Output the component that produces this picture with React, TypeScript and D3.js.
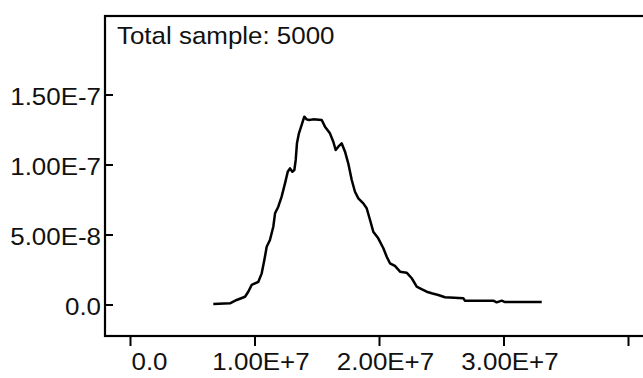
import React from "react";
import * as d3 from "d3";

// Density curve: x in units of 1e6, y in units of 1e-8
const xVals = [
  6.65, 7.99, 8.53, 9.2, 9.46, 9.73, 10.27, 10.54, 10.75, 10.94, 11.2, 11.47, 11.61, 11.87,
  12.14, 12.41, 12.63, 12.81, 13.0, 13.16, 13.27, 13.37, 13.53, 13.75, 13.96, 14.15, 14.34,
  14.68, 15.36, 15.62, 16.02, 16.29, 16.48, 16.69, 16.96, 17.23, 17.49, 17.77, 18.03, 18.3,
  18.7, 18.97, 19.24, 19.5, 19.9, 20.31, 20.58, 20.84, 21.24, 21.65, 22.18, 22.59, 22.99,
  23.25, 23.79, 24.19, 24.72, 25.26, 26.73, 26.87, 29.14, 29.41, 29.82, 30.08, 33.03,
];
const yVals = [
  0.07, 0.12, 0.36, 0.59, 0.95, 1.43, 1.66, 2.26, 3.21, 4.16, 4.64, 5.59, 6.55, 7.02,
  7.74, 8.69, 9.52, 9.76, 9.52, 9.64, 10.36, 11.55, 12.26, 12.86, 13.45, 13.26, 13.21,
  13.26, 13.21, 12.74, 12.26, 11.66, 11.07, 11.31, 11.55, 10.95, 10.12, 8.93, 8.09, 7.62,
  7.26, 6.91, 6.07, 5.24, 4.76, 4.05, 3.45, 2.98, 2.79, 2.38, 2.31, 1.91, 1.31,
  1.19, 0.95, 0.84, 0.71, 0.55, 0.48, 0.31, 0.31, 0.19, 0.31, 0.21, 0.21,
];

const xTicks = [0, 1e7, 2e7, 3e7, 4e7];
const xTickLabels = ["0.0", "1.00E+7", "2.00E+7", "3.00E+7", ""];
const yTicks = [0, 5e-8, 1e-7, 1.5e-7];
const yTickLabels = ["0.0", "5.00E-8", "1.00E-7", "1.50E-7"];
const title = "Total sample: 5000";

const W = 643;
const H = 378;
const frame = { left: 105, top: 16, right: 650, bottom: 336 };

const FONT = "'Liberation Sans', Arial, sans-serif";
const FS = 24;
const STRETCH = 1.08;

export default function App() {
  const x = d3.scaleLinear().domain([0, 3e7]).range([130.5, 504]);
  const y = d3.scaleLinear().domain([0, 1.5e-7]).range([305, 95]);

  const pts: [number, number][] = xVals.map((v, i) => [v * 1e6, yVals[i] * 1e-8]);
  const line = d3
    .line<[number, number]>()
    .x((d) => x(d[0]))
    .y((d) => y(d[1]))
    .curve(d3.curveLinear);

  return (
    <svg
      width={W}
      height={H}
      style={{ position: "absolute", left: 0, top: 0, background: "#fff" }}
    >
      <rect x={0} y={0} width={W} height={H} fill="#fff" />
      {/* plot frame */}
      <rect
        x={frame.left}
        y={frame.top}
        width={frame.right - frame.left}
        height={frame.bottom - frame.top}
        fill="none"
        stroke="#000"
        strokeWidth={2.2}
      />
      {/* y axis ticks and labels */}
      {yTicks.map((t, i) => (
        <g key={"y" + i}>
          <line
            x1={frame.left}
            x2={frame.left + 8}
            y1={y(t)}
            y2={y(t)}
            stroke="#000"
            strokeWidth={2}
          />
          <text
            transform={`translate(${frame.left - 4},${y(t) + 9.5}) scale(${STRETCH},1)`}
            textAnchor="end"
            fontFamily={FONT}
            fontSize={FS}
            fill="#111"
          >
            {yTickLabels[i]}
          </text>
        </g>
      ))}
      {/* x axis ticks and labels */}
      {xTicks.map((t, i) => (
        <g key={"x" + i}>
          <line
            x1={x(t)}
            x2={x(t)}
            y1={frame.bottom}
            y2={frame.bottom + 10}
            stroke="#000"
            strokeWidth={2}
          />
          {xTickLabels[i] && (
            <text
              transform={`translate(${x(t) + (i === 0 ? 19 : 6)},370) scale(${STRETCH},1)`}
              textAnchor="middle"
              fontFamily={FONT}
              fontSize={FS}
              fill="#111"
            >
              {xTickLabels[i]}
            </text>
          )}
        </g>
      ))}
      {/* title inside frame */}
      <text
        transform={`translate(117,44) scale(${STRETCH},1)`}
        fontFamily={FONT}
        fontSize={FS}
        fill="#111"
      >
        {title}
      </text>
      {/* density curve */}
      <path
        d={line(pts) || ""}
        fill="none"
        stroke="#000"
        strokeWidth={2.5}
        strokeLinejoin="round"
      />
    </svg>
  );
}
